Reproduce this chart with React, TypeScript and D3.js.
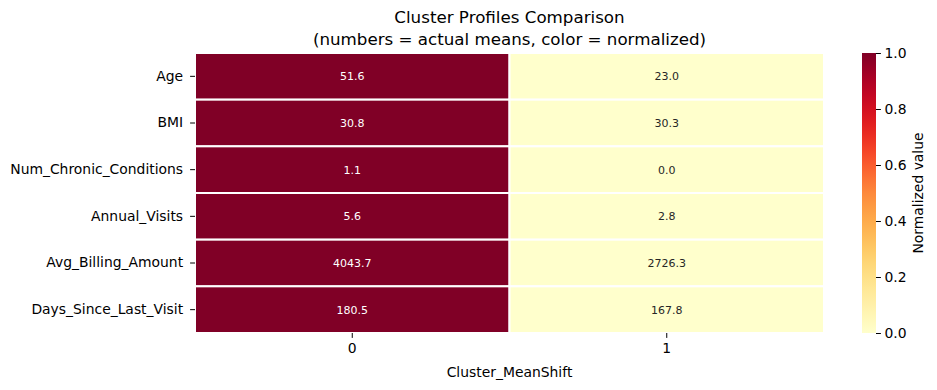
import * as d3 from 'd3';
import { useEffect, useRef } from 'react';

const features = ['Age', 'BMI', 'Num_Chronic_Conditions', 'Annual_Visits', 'Avg_Billing_Amount', 'Days_Since_Last_Visit'];
const clusters = ['0', '1'];
const cluster0Means = [51.6, 30.8, 1.1, 5.6, 4043.7, 180.5];
const cluster1Means = [23.0, 30.3, 0.0, 2.8, 2726.3, 167.8];
const colorTicks = [0, 0.2, 0.4, 0.6, 0.8, 1.0];

const App = () => {
  const svgRef = useRef<SVGSVGElement>(null);
  const width = 937;
  const height = 390;
  const left = 195;
  const right = 824;
  const top = 53;
  const bottom = 333;

  useEffect(() => {
    const svg = d3.select(svgRef.current);
    svg.selectAll('*').remove();
    const font = 'DejaVu Sans, sans-serif';

    const means = [cluster0Means, cluster1Means];
    // min-max normalize each feature across clusters
    const cells: { f: string; c: string; v: number; n: number }[] = [];
    features.forEach((f, i) => {
      const vals = means.map(m => m[i]);
      const lo = d3.min(vals)!;
      const hi = d3.max(vals)!;
      clusters.forEach((c, j) => {
        cells.push({ f, c, v: means[j][i], n: hi === lo ? 0 : (means[j][i] - lo) / (hi - lo) });
      });
    });

    const x = d3.scaleBand().domain(clusters).range([left, right]);
    const y = d3.scaleBand().domain(features).range([top, bottom]);
    const color = (t: number) => d3.interpolateYlOrRd(t);

    svg.append('g').selectAll('rect').data(cells).join('rect')
      .attr('x', d => x(d.c)!)
      .attr('y', d => y(d.f)!)
      .attr('width', x.bandwidth())
      .attr('height', y.bandwidth())
      .attr('fill', d => color(d.n))
      .attr('stroke', 'white')
      .attr('stroke-width', 2);

    svg.append('g').selectAll('text').data(cells).join('text')
      .attr('x', d => x(d.c)! + x.bandwidth() / 2)
      .attr('y', d => y(d.f)! + y.bandwidth() / 2)
      .attr('dy', '0.35em')
      .attr('text-anchor', 'middle')
      .attr('font-family', font)
      .attr('font-size', 11)
      .attr('fill', d => d.n > 0.5 ? 'white' : '#262626')
      .text(d => d.v.toFixed(1));

    const yAxis = d3.axisLeft(y).tickSize(4.9).tickPadding(7);
    svg.append('g').attr('transform', `translate(${left},0)`).call(yAxis)
      .call(g => g.select('.domain').remove())
      .call(g => g.selectAll('text').attr('font-family', font).attr('font-size', 13.9).attr('fill', 'black'));

    const xAxis = d3.axisBottom(x).tickSize(4.9).tickPadding(5);
    svg.append('g').attr('transform', `translate(0,${bottom})`).call(xAxis)
      .call(g => g.select('.domain').remove())
      .call(g => g.selectAll('text').attr('font-family', font).attr('font-size', 13.9).attr('fill', 'black'));

    svg.append('text')
      .attr('x', (left + right) / 2).attr('y', 377)
      .attr('text-anchor', 'middle').attr('font-family', font).attr('font-size', 13.9)
      .text('Cluster_MeanShift');

    const title = svg.append('text')
      .attr('x', (left + right) / 2).attr('text-anchor', 'middle')
      .attr('font-family', font).attr('font-size', 16.7);
    title.append('tspan').attr('x', (left + right) / 2).attr('y', 23).text('Cluster Profiles Comparison');
    title.append('tspan').attr('x', (left + right) / 2).attr('y', 45).text('(numbers = actual means, color = normalized)');

    // colorbar
    const cbX = 862;
    const cbW = 14;
    const grad = svg.append('defs').append('linearGradient')
      .attr('id', 'cbgrad').attr('x1', 0).attr('y1', 1).attr('x2', 0).attr('y2', 0);
    d3.range(0, 1.0001, 0.05).forEach(t => {
      grad.append('stop').attr('offset', t).attr('stop-color', color(t));
    });
    svg.append('rect').attr('x', cbX).attr('y', top).attr('width', cbW).attr('height', bottom - top)
      .attr('fill', 'url(#cbgrad)');
    const cy = d3.scaleLinear().domain([0, 1]).range([bottom, top]);
    const cAxis = d3.axisRight(cy).tickValues(colorTicks).tickFormat(d3.format('.1f')).tickSize(4.9).tickPadding(3.5);
    svg.append('g').attr('transform', `translate(${cbX + cbW},0)`).call(cAxis)
      .call(g => g.select('.domain').remove())
      .call(g => g.selectAll('text').attr('font-family', font).attr('font-size', 13.9).attr('fill', 'black'));
    svg.append('text')
      .attr('transform', `translate(923,${(top + bottom) / 2}) rotate(-90)`)
      .attr('text-anchor', 'middle').attr('font-family', font).attr('font-size', 13.9)
      .text('Normalized value');
  }, []);

  return (
    <div style={{ margin: -8 }}>
      <svg ref={svgRef} width={width} height={height} viewBox={`0 0 ${width} ${height}`} style={{ display: 'block', background: 'white' }} />
    </div>
  );
};

export default App;
